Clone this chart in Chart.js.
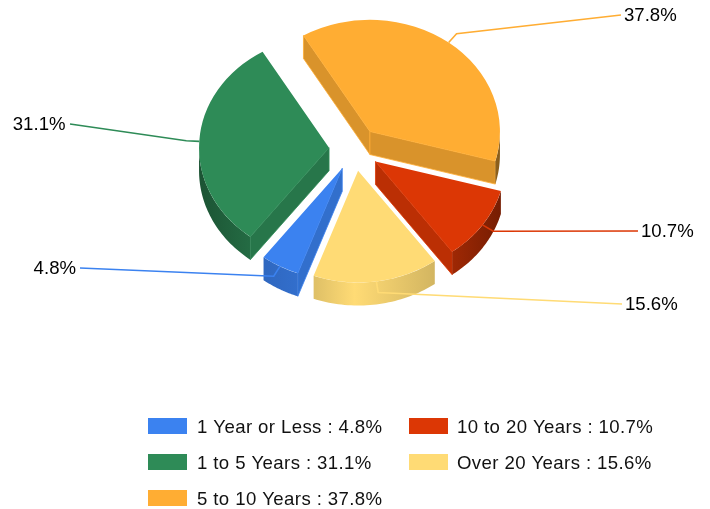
<!DOCTYPE html>
<html>
<head>
<meta charset="utf-8">
<style>
    html, body { margin: 0; padding: 0; background: #fff; }
    canvas { display: block; }
</style>
<script src="https://cdn.jsdelivr.net/npm/chart.js@4/dist/chart.umd.min.js"></script>
</head>
<body>
<canvas id="chart" width="710" height="509"></canvas>
<script>
var categories = ["1 Year or Less", "1 to 5 Years", "5 to 10 Years", "10 to 20 Years", "Over 20 Years"];
var shares = [4.8, 31.1, 37.8, 10.7, 15.6];
var colours = ["#3B82F0", "#2E8B57", "#FFAD33", "#DC3705", "#FFDB75"];

// look of the fake 3D
var TILT = 0.86;
var DEPTH = 23;
var EXPLODE = 25.5;
var ELBOW = 13;
var FONT = '18.6px "Liberation Sans", Arial, sans-serif';

// where each leader line ends and its label sits: [lineEndX, lineEndY, labelX, align]
var labelSpots = [
    [80, 268, 76, "right"],
    [70, 124, 65.5, "right"],
    [621, 15, 624, "left"],
    [638, 231, 641, "left"],
    [622, 304, 625, "left"]
];

// legend cells in picture order: [slice index, swatchX, textX, rowY]
var legendCells = [
    [0, 148, 197, 426],
    [1, 148, 197, 462],
    [2, 148, 197, 498],
    [3, 409, 457, 426],
    [4, 409, 457, 462]
];

function shade(hex, f){
    let n = parseInt(hex.slice(1), 16);
    let r = Math.round(((n >> 16) & 255) * f);
    let g = Math.round(((n >> 8) & 255) * f);
    let b = Math.round((n & 255) * f);
    return "rgb(" + r + "," + g + "," + b + ")";
}

// screen position of a point on a slice, after explode and tilt
function project(arc, angle, radius){
    let mid = (arc.startAngle + arc.endAngle) / 2;
    return {
        x: arc.x + Math.cos(mid) * EXPLODE + Math.cos(angle) * radius,
        y: arc.y + (Math.sin(mid) * EXPLODE + Math.sin(angle) * radius) * TILT
    };
}

function drawCutWall(ctx, arc, angle, colour){
    let apex = project(arc, angle, 0);
    let rim = project(arc, angle, arc.outerRadius);
    ctx.beginPath();
    ctx.moveTo(apex.x, apex.y);
    ctx.lineTo(rim.x, rim.y);
    ctx.lineTo(rim.x, rim.y + DEPTH);
    ctx.lineTo(apex.x, apex.y + DEPTH);
    ctx.closePath();
    ctx.fillStyle = shade(colour, 0.85);
    ctx.fill();
    ctx.strokeStyle = colour;
    ctx.lineWidth = 0.8;
    ctx.stroke();
}

function drawOuterWall(ctx, arc, colour){
    // only the front half of the rim faces us
    for(let n=0; n<2; n++){
        let from = Math.max(arc.startAngle, n * 2 * Math.PI);
        let to = Math.min(arc.endAngle, n * 2 * Math.PI + Math.PI);
        if(to <= from) continue;

        ctx.beginPath();
        for(let step=0; step<=40; step++){
            let p = project(arc, from + (to - from) * step / 40, arc.outerRadius);
            ctx.lineTo(p.x, p.y);
        }
        for(let step=40; step>=0; step--){
            let p = project(arc, from + (to - from) * step / 40, arc.outerRadius);
            ctx.lineTo(p.x, p.y + DEPTH);
        }
        ctx.closePath();

        let grad = ctx.createLinearGradient(arc.x - 160, 0, arc.x + 160, 0);
        grad.addColorStop(0, shade(colour, 0.58));
        grad.addColorStop(0.18, shade(colour, 0.78));
        grad.addColorStop(0.38, shade(colour, 0.88));
        grad.addColorStop(0.5, shade(colour, 1));
        grad.addColorStop(0.76, shade(colour, 0.82));
        grad.addColorStop(0.81, shade(colour, 0.72));
        grad.addColorStop(1, shade(colour, 0.48));
        ctx.fillStyle = grad;
        ctx.fill();
    }
}

var pie3d = {
    id: "pie3d",
    beforeDatasetDraw(chart, args){
        let ctx = chart.ctx;
        let arcs = chart.getDatasetMeta(args.index).data.slice();

        //Back slices first
        let midY = a => Math.sin((a.startAngle + a.endAngle) / 2);
        arcs.sort((a, b) => midY(a) - midY(b));

        arcs.forEach(arc => {
            let colour = colours[arc.$context.index];
            if(Math.cos(arc.startAngle) < 0) drawCutWall(ctx, arc, arc.startAngle, colour);
            if(Math.cos(arc.endAngle) > 0) drawCutWall(ctx, arc, arc.endAngle, colour);
            drawOuterWall(ctx, arc, colour);

            //Top face: the library's own arc, squashed and pushed out
            let mid = (arc.startAngle + arc.endAngle) / 2;
            ctx.save();
            ctx.translate(arc.x, arc.y);
            ctx.scale(1, TILT);
            ctx.translate(-arc.x, -arc.y);
            ctx.translate(Math.cos(mid) * EXPLODE, Math.sin(mid) * EXPLODE);
            arc.draw(ctx);
            ctx.restore();
        });
        return false;
    },
    afterDatasetsDraw(chart){
        let ctx = chart.ctx;
        let arcs = chart.getDatasetMeta(0).data;

        //Leader lines and percent labels
        ctx.font = FONT;
        ctx.textBaseline = "middle";
        arcs.forEach((arc, i) => {
            let mid = (arc.startAngle + arc.endAngle) / 2;
            let start = project(arc, mid, arc.outerRadius);
            let elbow = project(arc, mid, arc.outerRadius + ELBOW);
            let spot = labelSpots[i];
            ctx.beginPath();
            ctx.moveTo(start.x, start.y);
            ctx.lineTo(elbow.x, elbow.y);
            ctx.lineTo(spot[0], spot[1]);
            ctx.strokeStyle = colours[i];
            ctx.lineWidth = 1.6;
            ctx.stroke();

            ctx.fillStyle = "#000";
            ctx.textAlign = spot[3];
            ctx.fillText(shares[i].toFixed(1) + "%", spot[2], spot[1] + 1);
        });

        //Legend
        ctx.save();
        ctx.textAlign = "left";
        ctx.letterSpacing = "0.4px";
        legendCells.forEach(cell => {
            let i = cell[0];
            ctx.fillStyle = colours[i];
            ctx.fillRect(cell[1], cell[3] - 8, 39, 16);
            ctx.fillStyle = "#111";
            ctx.fillText(categories[i] + " : " + shares[i].toFixed(1) + "%", cell[2], cell[3] + 2);
        });
        ctx.restore();
    }
};

var chartData = {
    type: "pie",
    data: {
        labels: categories,
        datasets: [{
            data: shares,
            backgroundColor: colours,
            borderWidth: 0
        }]
    },
    options: {
        responsive: false,
        animation: false,
        rotation: 200,
        radius: 130,
        layout: {padding: {left: 0, right: 1, top: 0, bottom: 211}},
        plugins: {
            legend: {display: false},
            tooltip: {enabled: false}
        }
    },
    plugins: [pie3d]
};

var chart = new Chart(document.getElementById("chart"), chartData);
</script>
</body>
</html>
